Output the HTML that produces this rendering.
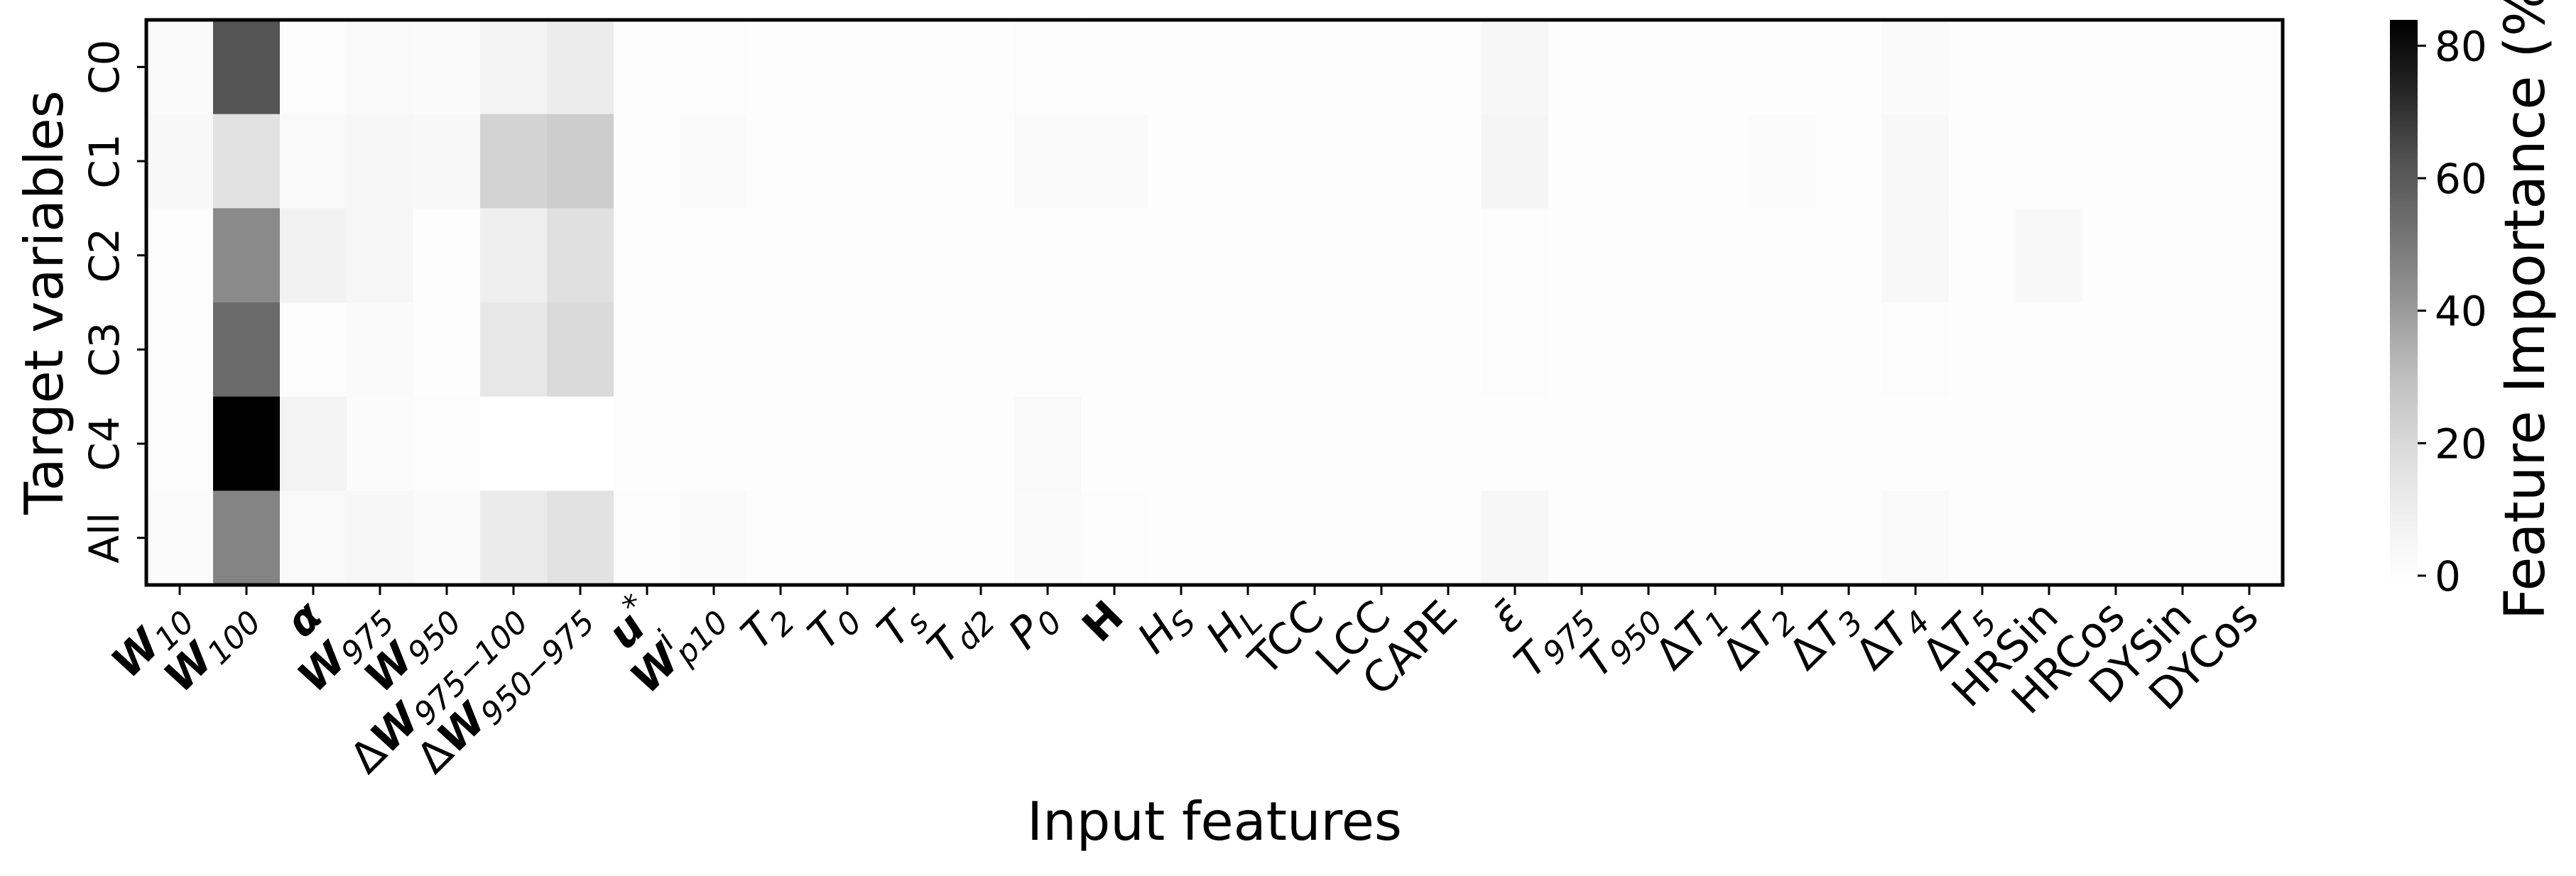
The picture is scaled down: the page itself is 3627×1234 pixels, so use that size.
<!DOCTYPE html>
<html><head><meta charset="utf-8"><style>
html,body{margin:0;padding:0;background:#fff;}
svg{display:block;font-family:"DejaVu Sans","Liberation Sans",sans-serif;}
</style></head><body>
<svg id="chart" width="3627" height="1234" viewBox="0 0 3627 1234" xmlns="http://www.w3.org/2000/svg">
<defs><linearGradient id="cbgrad" x1="0" y1="1" x2="0" y2="0"></linearGradient></defs>
<g id="cells"></g>
<rect x="206" y="28" width="3008" height="796" fill="none" stroke="#000" stroke-width="5"/>
<g id="xticks"></g>
<g id="yticks"></g>
<text x="1710" y="1183" font-size="75" text-anchor="middle">Input features</text>
<text transform="translate(88,426) rotate(-90)" font-size="75" text-anchor="middle">Target variables</text>
<rect id="cbar" x="3365" y="28" width="39" height="796" fill="url(#cbgrad)"/>
<g id="cbticks"></g>
<text transform="translate(3582,410) rotate(-90)" font-size="78" text-anchor="middle">Feature Importance (%)</text>
</svg>
<script>
const rowLabels = ["C0","C1","C2","C3","C4","All"];
const featureCount = 32;
const rowC0 = [2.2,61.9,0.7,2.9,2.2,7.1,11.1,0.3,0.7,0.3,0.3,0.3,0.3,0.5,0.3,0.3,0.3,0.3,0.3,0.3,4.3,0.3,0.3,0.3,0.3,0.3,2.2,0.3,0.3,0.3,0.3,0.3];
const rowC1 = [3.6,15.7,2.9,4.3,3.6,22.2,24.5,0.0,2.2,0.3,0.3,0.3,0.3,2.2,2.2,0.3,0.3,0.3,0.3,0.3,5.7,0.3,0.3,0.3,1.5,0.3,3.6,0.3,0.3,0.3,0.3,0.3];
const rowC2 = [0.7,44.9,7.8,5.0,0.2,9.5,16.7,0.2,0.2,0.2,0.2,0.2,0.2,0.2,0.2,0.2,0.2,0.2,0.2,0.2,0.7,0.2,0.2,0.2,0.2,0.2,3.6,0.2,3.6,0.2,0.2,0.2];
const rowC3 = [0.7,54.5,0.7,2.2,0.1,13.4,19.6,0.2,0.3,0.3,0.3,0.3,0.3,0.3,0.3,0.3,0.3,0.3,0.3,0.3,0.7,0.3,0.3,0.3,0.3,0.3,0.7,0.3,0.3,0.3,0.3,0.3];
const rowC4 = [0.7,83.9,7.1,1.5,0.7,-1.4,-1.4,0.3,0.1,0.3,0.3,0.3,0.3,2.9,0.3,0.3,0.3,0.3,0.3,0.3,0.3,0.3,0.3,0.3,0.3,0.3,0.1,0.3,0.3,0.3,0.3,0.3];
const rowAll = [1.5,46.7,2.9,4.3,2.2,11.6,15.7,0.7,2.2,0.3,0.3,0.3,0.3,2.2,0.5,0.3,0.3,0.3,0.3,0.3,4.3,0.3,0.3,0.3,0.3,0.3,2.9,0.3,0.3,0.3,0.3,0.3];
const cbTicks = [0,20,40,60,80];
const vMin = -1.4, vMax = 83.9;
const featureLabels = [
 [["W","b"],["10","s"]],[["W","b"],["100","s"]],[["α","b"]],[["W","b"],["975","s"]],[["W","b"],["950","s"]],
 [["Δ","n"],["W","b"],["975−100","s"]],[["Δ","n"],["W","b"],["950−975","s"]],
 [["u","b"],["*","S"]],[["W","b"],["i","S"],["p10","s2"]],
 [["T","i"],["2","s"]],[["T","i"],["0","s"]],[["T","i"],["s","s"]],[["T","i"],["d2","s"]],[["P","i"],["0","s"]],
 [["H","B"]],[["H","i"],["S","s"]],[["H","i"],["L","s"]],[["TCC","n"]],[["LCC","n"]],[["CAPE","n"]],[["ε̄","i"]],
 [["T","i"],["975","s"]],[["T","i"],["950","s"]],
 [["Δ","n"],["T","i"],["1","s"]],[["Δ","n"],["T","i"],["2","s"]],[["Δ","n"],["T","i"],["3","s"]],[["Δ","n"],["T","i"],["4","s"]],[["Δ","n"],["T","i"],["5","s"]],
 [["HRSin","n"]],[["HRCos","n"]],[["DYSin","n"]],[["DYCos","n"]]
];
const rows = [rowC0,rowC1,rowC2,rowC3,rowC4,rowAll];

const NS="http://www.w3.org/2000/svg";
const X0=206, X1=3214, Y0=28, Y1=824;
const cw=(X1-X0)/featureCount, rh=(Y1-Y0)/rowLabels.length;
const xCenter=i=>X0+(i+0.5)*cw;
const yCenter=j=>Y0+(j+0.5)*rh;
const greys=[255,240,217,189,150,115,82,37,0];
function color(v){
  let t=(v-vMin)/(vMax-vMin); t=Math.max(0,Math.min(1,t));
  const p=t*8, k=Math.min(7,Math.floor(p)), f=p-k;
  const g=Math.round(greys[k]+(greys[k+1]-greys[k])*f);
  return `rgb(${g},${g},${g})`;
}
function el(tag,attrs,parent){const e=document.createElementNS(NS,tag);for(const k in attrs)e.setAttribute(k,attrs[k]);parent.appendChild(e);return e;}

const cells=document.getElementById('cells');
rows.forEach((r,j)=>r.forEach((v,i)=>{
  const c=el('rect',{x:X0+i*cw,y:Y0+j*rh,width:cw+0.6,height:rh+0.6,fill:color(v)},cells);
  
  
}));

const yt=document.getElementById('yticks');
rowLabels.forEach((lab,j)=>{
  const y=yCenter(j);
  const tk=el('line',{x1:193,x2:206,y1:y,y2:y,stroke:'#000','stroke-width':3},yt);
  
  
  const t=el('text',{transform:`translate(167,${y}) rotate(-90)`,'font-size':58,'text-anchor':'middle'},yt);
  t.textContent=lab;
  
  
});

const xt=document.getElementById('xticks');
featureLabels.forEach((segs,i)=>{
  const x=xCenter(i);
  const tk=el('line',{x1:x,x2:x,y1:824,y2:838,stroke:'#000','stroke-width':3},xt);
  
  
  const t=el('text',{transform:`translate(${x+16},${872}) rotate(-45)`,'font-size':60,'text-anchor':'end'},xt);
  
  
  let cur=0;
  segs.forEach(([s,st])=>{
    const ts=el('tspan',{},t);
    ts.textContent=s;
    let target=0;
    if(st==='b'){ts.setAttribute('font-weight','bold');ts.setAttribute('font-style','italic');}
    else if(st==='B'){ts.setAttribute('font-weight','bold');}
    else if(st==='i'){ts.setAttribute('font-style','italic');}
    else if(st==='s'||st==='s2'){ts.setAttribute('font-style','italic');ts.setAttribute('font-size','44');target=10;}
    else if(st==='S'){ts.setAttribute('font-style','italic');ts.setAttribute('font-size','44');target=-24;}
    if(st==='s2'){ts.setAttribute('dx','-10');}
    if(target!==cur){ts.setAttribute('dy',target-cur);cur=target;}
  });
});

const grad=document.getElementById('cbgrad');
for(let k=0;k<=20;k++){
  const v=vMin+(vMax-vMin)*k/20;
  el('stop',{offset:(k/20),'stop-color':color(v)},grad);
}
const cbt=document.getElementById('cbticks');
cbTicks.forEach(v=>{
  const y=Y1-(v-vMin)/(vMax-vMin)*(Y1-Y0);
  const tk=el('line',{x1:3404,x2:3416,y1:y,y2:y,stroke:'#000','stroke-width':3},cbt);
  
  
  const t=el('text',{x:3428,y:y+21,'font-size':58},cbt);
  t.textContent=v;
  
  
});
</script>
</body></html>
